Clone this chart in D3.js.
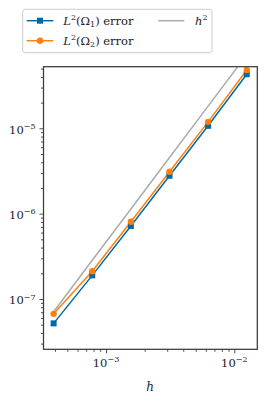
<!DOCTYPE html>
<html><head><meta charset="utf-8">
<script src="https://cdn.jsdelivr.net/npm/d3@7"></script>
<style>html,body{margin:0;padding:0;background:#fff;}svg{display:block;}</style>
</head><body>
<svg id="chart" width="266" height="395"></svg>
<script>
const hValues = [3.90625e-4, 7.8125e-4, 1.5625e-3, 3.125e-3, 6.25e-3, 1.25e-2];
const errOmega1 = [5.18e-8, 1.89e-7, 7.16e-7, 2.78e-6, 1.07e-5, 4.30e-5];
const errOmega2 = [6.70e-8, 2.11e-7, 8.04e-7, 3.10e-6, 1.19e-5, 4.82e-5];
const refH2 = [7.1e-8, 2.84e-7, 1.135e-6, 4.54e-6, 1.82e-5, 7.27e-5];
const xTickValues = [1e-3, 1e-2];
const xTickExps = ["−3", "−2"];
const yTickValues = [1e-7, 1e-6, 1e-5];
const yTickExps = ["−7", "−6", "−5"];

const svg = d3.select("#chart");
const L = 43.5, R = 257.3, T = 66.7, B = 349.3;
const x = d3.scaleLog().domain([3.257e-4, 1.5104e-2]).range([L, R]);
const y = d3.scaleLog().domain([2.574e-8, 5.268e-5]).range([B, T]);

const blue = "#006BA4", orange = "#FF800E", gray = "#ababab", spine = "#3a3a3a";
const serif = "'DejaVu Serif','Liberation Serif',serif";
const fs = 11.5, fsSup = 8;

svg.append("defs").append("clipPath").attr("id","clip")
  .append("rect").attr("x",L).attr("y",T).attr("width",R-L).attr("height",B-T);

// minor ticks
const xMinor = [];
[1e-4,1e-3,1e-2].forEach(d=>{for(let k=2;k<=9;k++){const v=d*k; if(v>x.domain()[0]&&v<x.domain()[1]) xMinor.push(v);}});
const yMinor = [];
[1e-8,1e-7,1e-6,1e-5].forEach(d=>{for(let k=2;k<=9;k++){const v=d*k; if(v>y.domain()[0]&&v<y.domain()[1]) yMinor.push(v);}});

svg.append("g").attr("transform",`translate(0,${B})`)
  .call(d3.axisBottom(x).tickValues(xMinor).tickSize(2.5).tickFormat(""));
svg.append("g").attr("transform",`translate(0,${B})`)
  .call(d3.axisBottom(x).tickValues(xTickValues).tickSize(4).tickFormat(""));
svg.append("g").attr("transform",`translate(${L},0)`)
  .call(d3.axisLeft(y).tickValues(yMinor).tickSize(2.5).tickFormat(""));
svg.append("g").attr("transform",`translate(${L},0)`)
  .call(d3.axisLeft(y).tickValues(yTickValues).tickSize(4).tickFormat(""));
svg.selectAll(".domain").remove();
svg.selectAll(".tick line").attr("stroke",spine).attr("stroke-width",0.9);

// tick labels
xTickValues.forEach((v,i)=>{
  const t = svg.append("text").attr("x",x(v)).attr("y",366.8).attr("text-anchor","middle")
    .attr("font-family",serif).attr("font-size",fs).attr("fill","#222");
  t.append("tspan").text("10");
  t.append("tspan").attr("dy",-4.6).attr("font-size",fsSup).text(xTickExps[i]);
});
yTickValues.forEach((v,i)=>{
  const t = svg.append("text").attr("x",35.5).attr("y",y(v)+5.4).attr("text-anchor","end")
    .attr("font-family",serif).attr("font-size",fs).attr("fill","#222");
  t.append("tspan").text("10");
  t.append("tspan").attr("dy",-4.6).attr("font-size",fsSup).text(yTickExps[i]);
});
svg.append("text").attr("x",150).attr("y",391).attr("text-anchor","middle")
  .attr("font-family",serif).attr("font-style","italic").attr("font-size",12).attr("fill","#222").text("h");

// lines
const plot = svg.append("g").attr("clip-path","url(#clip)");
const line = arr => d3.line().x((d,i)=>x(hValues[i])).y(d=>y(d))(arr);
plot.append("path").attr("d",line(refH2)).attr("fill","none").attr("stroke",gray).attr("stroke-width",1.5);
plot.append("path").attr("d",line(errOmega1)).attr("fill","none").attr("stroke",blue).attr("stroke-width",1.5);
plot.append("path").attr("d",line(errOmega2)).attr("fill","none").attr("stroke",orange).attr("stroke-width",1.5);
plot.selectAll(".sq").data(errOmega1).enter().append("rect")
  .attr("x",(d,i)=>x(hValues[i])-3).attr("y",d=>y(d)-3).attr("width",6).attr("height",6).attr("fill",blue);
plot.selectAll(".ci").data(errOmega2).enter().append("circle")
  .attr("cx",(d,i)=>x(hValues[i])).attr("cy",d=>y(d)).attr("r",3.2).attr("fill",orange);

// frame
svg.append("rect").attr("x",L).attr("y",T).attr("width",R-L).attr("height",B-T)
  .attr("fill","none").attr("stroke",spine).attr("stroke-width",1.25);

// legend
const lg = svg.append("g");
lg.append("rect").attr("x",22.7).attr("y",9.3).attr("width",189.3).attr("height",43.4).attr("rx",2.5)
  .attr("fill","#fff").attr("stroke","#cccccc").attr("stroke-width",1);
function legLabel(yy, sub){
  const t = lg.append("text").attr("x",63.3).attr("y",yy+4).attr("font-family",serif).attr("font-size",fs).attr("fill","#222");
  t.append("tspan").attr("font-style","italic").text("L");
  t.append("tspan").attr("dy",-4.6).attr("font-size",fsSup).text("2");
  t.append("tspan").attr("dy",4.6).text("(Ω");
  t.append("tspan").attr("dy",2.2).attr("font-size",fsSup).text(sub);
  t.append("tspan").attr("dy",-2.2).text(") error");
}
lg.append("line").attr("x1",26.7).attr("x2",53.3).attr("y1",20.7).attr("y2",20.7).attr("stroke",blue).attr("stroke-width",1.5);
lg.append("rect").attr("x",37).attr("y",17.7).attr("width",6).attr("height",6).attr("fill",blue);
legLabel(20.7,"1");
lg.append("line").attr("x1",26.7).attr("x2",53.3).attr("y1",40.7).attr("y2",40.7).attr("stroke",orange).attr("stroke-width",1.5);
lg.append("circle").attr("cx",40).attr("cy",40.7).attr("r",3.2).attr("fill",orange);
legLabel(40.7,"2");
lg.append("line").attr("x1",158.3).attr("x2",184.3).attr("y1",20.7).attr("y2",20.7).attr("stroke",gray).attr("stroke-width",1.5);
const th = lg.append("text").attr("x",195).attr("y",24.7).attr("font-family",serif).attr("font-size",fs).attr("fill","#222");
th.append("tspan").attr("font-style","italic").text("h");
th.append("tspan").attr("dy",-4.6).attr("font-size",fsSup).text("2");
</script>
</body></html>
